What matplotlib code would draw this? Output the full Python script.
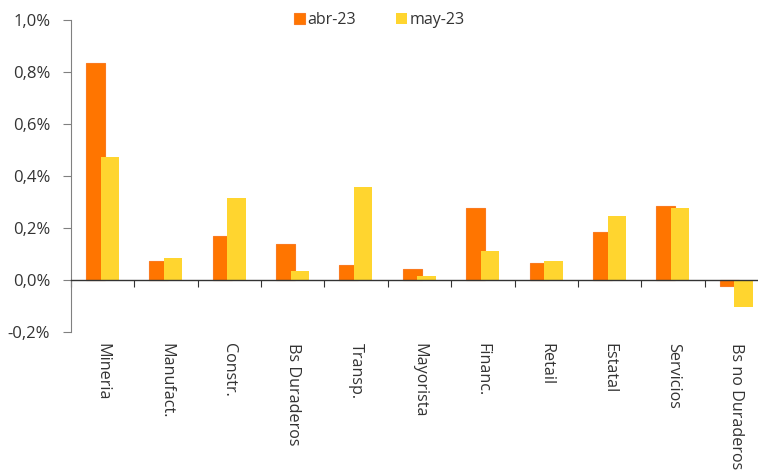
import matplotlib
matplotlib.use("Agg")
import matplotlib.pyplot as plt
import matplotlib.transforms as mtransforms
import numpy as np

categories = ["Mineria", "Manufact.", "Constr.", "Bs Duraderos", "Transp.",
              "Mayorista", "Financ.", "Retail", "Estatal", "Servicios",
              "Bs no Duraderos"]
abr23 = [0.835, 0.072, 0.168, 0.137, 0.057, 0.042, 0.278, 0.067, 0.185, 0.285, -0.022]
may23 = [0.472, 0.085, 0.316, 0.035, 0.358, 0.015, 0.110, 0.073, 0.248, 0.277, -0.103]
series_names = ["abr-23", "may-23"]
yticks = [-0.2, 0.0, 0.2, 0.4, 0.6, 0.8, 1.0]

plt.rcParams['font.family'] = ['Open Sans', 'DejaVu Sans']

fig = plt.figure(figsize=(7.58, 4.70), dpi=100)
ax = fig.add_axes([71/758, 1 - 332/470, 697/758, (332 - 20)/470])

x = np.arange(len(categories))
c_orange = "#FF7500"
c_yellow = "#FFD52F"
b1 = ax.bar(x - 0.113, abr23, width=0.30, color=c_orange, edgecolor="#FA7A20",
            linewidth=0.8, label=series_names[0], zorder=2)
b2 = ax.bar(x + 0.113, may23, width=0.29, color=c_yellow, label=series_names[1], zorder=3)

ax.set_xlim(-0.5, len(categories) - 0.5)
ax.set_ylim(-0.2, 1.0)
ax.set_yticks(yticks)
ax.set_yticklabels([f"{v:.1f}%".replace(".", ",") for v in yticks], fontsize=12, color="#333333")

for s in ["top", "right"]:
    ax.spines[s].set_visible(False)
ax.spines["left"].set_color("#808080")
ax.spines["bottom"].set_position(("data", 0))
ax.spines["bottom"].set_color("#333333")
ax.spines["bottom"].set_linewidth(1.0)
ax.spines["bottom"].set_zorder(4)
ax.set_xticks(np.arange(len(categories) + 1) - 0.5)
ax.set_xticklabels([])
ax.tick_params(axis="x", direction="out", length=5, color="#333333")
ax.tick_params(axis="y", direction="out", length=6, color="#808080", pad=9)

trans = mtransforms.blended_transform_factory(ax.transData, ax.transAxes)
for i, c in enumerate(categories):
    ax.text(i, -0.035, c, transform=trans, rotation=270, ha="center", va="top",
            fontsize=11.6, color="#333333", clip_on=False)

leg = fig.legend(handles=[b1, b2], labels=series_names, loc="upper center",
                 bbox_to_anchor=(0.5, 1.005), ncol=2, frameon=False, fontsize=11.5,
                 handlelength=0.7, handleheight=0.7, handletextpad=0.15,
                 columnspacing=2.5, labelcolor="#333333")

fig.savefig("out.png", dpi=100)
